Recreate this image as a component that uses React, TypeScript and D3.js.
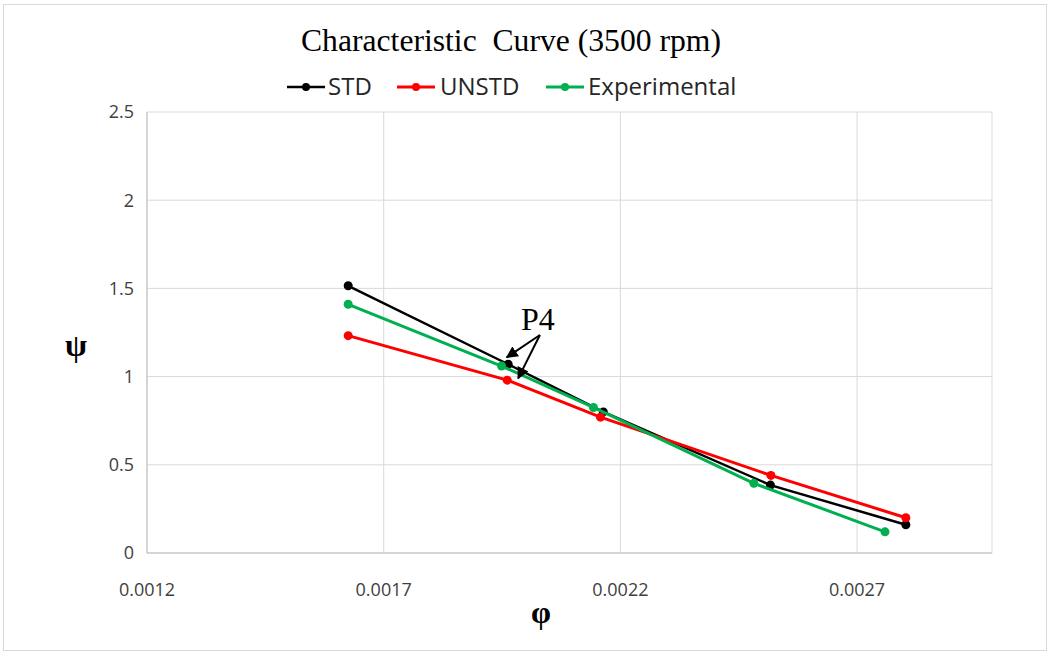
import React, { useEffect } from 'react';
import * as d3 from 'd3';

// 数据 (φ, ψ)
const phiTicks = [0.0012, 0.0017, 0.0022, 0.0027];
const psiTicks = [0, 0.5, 1, 1.5, 2, 2.5];

const stdPhi = [0.001625, 0.001963, 0.002164, 0.002517, 0.002803];
const stdPsi = [1.515, 1.07, 0.8, 0.385, 0.16];

const unstdPhi = [0.001625, 0.001961, 0.002158, 0.002518, 0.002803];
const unstdPsi = [1.232, 0.98, 0.77, 0.44, 0.2];

const expPhi = [0.001625, 0.001949, 0.002143, 0.002482, 0.002759];
const expPsi = [1.41, 1.06, 0.825, 0.395, 0.12];

const seriesNames = ['STD', 'UNSTD', 'Experimental'];
const seriesColors = ['#000000', '#ff0000', '#00b050'];

// P4 标注 (数据坐标)
const p4Origin = [0.00203, 1.236];
const p4Tips = [
  [0.00196, 1.109],
  [0.001984, 0.99],
];

const W = 1050;
const H = 655;
const margin = { top: 112, right: 58, bottom: 102, left: 147 };

const App = () => {
  useEffect(() => {
    document.body.style.margin = '0';
  }, []);

  const x = d3.scaleLinear().domain([0.0012, 0.002985]).range([margin.left, W - margin.right]);
  const y = d3.scaleLinear().domain([0, 2.5]).range([H - margin.bottom, margin.top]);

  const series = [
    { phi: stdPhi, psi: stdPsi, width: 2.5 },
    { phi: unstdPhi, psi: unstdPsi, width: 3 },
    { phi: expPhi, psi: expPsi, width: 3 },
  ].map((s, i) => ({
    ...s,
    name: seriesNames[i],
    color: seriesColors[i],
    pts: s.phi.map((p, j) => [p, s.psi[j]] as [number, number]),
  }));

  const line = d3
    .line<[number, number]>()
    .x((d) => x(d[0]))
    .y((d) => y(d[1]));

  const sans = "'Open Sans', 'Liberation Sans', sans-serif";
  const serif = "'Liberation Serif', 'Times New Roman', serif";

  // 图例位置
  const legendItems = [
    { x0: 287, tx: 328 },
    { x0: 397, tx: 440 },
    { x0: 546, tx: 588 },
  ];

  const ox = x(p4Origin[0]);
  const oy = y(p4Origin[1]);

  return (
    <svg width={W} height={H} style={{ display: 'block', background: '#fff' }}>
      <defs>
        <marker id="arrow" viewBox="0 0 10 10" refX="9" refY="5" markerWidth="6" markerHeight="6" orient="auto">
          <path d="M0,0 L10,5 L0,10 z" fill="#000" />
        </marker>
      </defs>
      <rect x={3.5} y={4.5} width={W - 7} height={H - 9} fill="#fff" stroke="#d9d9d9" />

      {/* 标题 */}
      <text x={301} y={51} fontFamily={serif} fontSize={31} fill="#000" textLength={420} lengthAdjust="spacingAndGlyphs">
        Characteristic&nbsp; Curve (3500 rpm)
      </text>

      {/* 图例 */}
      {series.map((s, i) => (
        <g key={s.name}>
          <line x1={legendItems[i].x0} x2={legendItems[i].x0 + 38} y1={87} y2={87} stroke={s.color} strokeWidth={s.width} />
          <circle cx={legendItems[i].x0 + 19} cy={87} r={4} fill={s.color} />
          <text x={legendItems[i].tx} y={87} dy="0.35em" fontFamily={sans} fontSize={24} fill="#262626">
            {s.name}
          </text>
        </g>
      ))}

      {/* 网格 */}
      {psiTicks.map((t) => (
        <line key={'gy' + t} x1={margin.left} x2={W - margin.right} y1={y(t)} y2={y(t)} stroke="#d9d9d9" />
      ))}
      {phiTicks.map((t) => (
        <line key={'gx' + t} x1={x(t)} x2={x(t)} y1={margin.top} y2={H - margin.bottom} stroke="#d9d9d9" />
      ))}
      <line x1={W - margin.right} x2={W - margin.right} y1={margin.top} y2={H - margin.bottom} stroke="#d9d9d9" />
      <line x1={margin.left} x2={margin.left} y1={margin.top} y2={H - margin.bottom} stroke="#bfbfbf" />
      <line x1={margin.left} x2={W - margin.right} y1={H - margin.bottom} y2={H - margin.bottom} stroke="#bfbfbf" />

      {/* 刻度 */}
      {psiTicks.map((t) => (
        <text key={'ty' + t} x={134} y={y(t)} dy="0.35em" textAnchor="end" fontFamily={sans} fontSize={18} fill="#404040">
          {t}
        </text>
      ))}
      {phiTicks.map((t) => (
        <text key={'tx' + t} x={x(t)} y={596} textAnchor="middle" fontFamily={sans} fontSize={18} fill="#404040">
          {d3.format('.4f')(t)}
        </text>
      ))}

      {/* 轴标题 */}
      <text x={76} y={356} textAnchor="middle" fontFamily={serif} fontSize={32} fontWeight="bold" fill="#000">
        ψ
      </text>
      <text x={541} y={623} textAnchor="middle" fontFamily={serif} fontSize={32} fontWeight="bold" fill="#000">
        φ
      </text>

      {/* 曲线 */}
      {series.map((s) => (
        <g key={'s' + s.name}>
          <path d={line(s.pts) || ''} fill="none" stroke={s.color} strokeWidth={s.width} />
          {s.pts.map((p, j) => (
            <circle key={j} cx={x(p[0])} cy={y(p[1])} r={4.5} fill={s.color} />
          ))}
        </g>
      ))}

      {/* P4 标注 */}
      <text x={ox - 2} y={oy - 5} textAnchor="middle" fontFamily={serif} fontSize={32} fill="#000">
        P4
      </text>
      {p4Tips.map((t, i) => (
        <line key={'a' + i} x1={ox} y1={oy} x2={x(t[0])} y2={y(t[1])} stroke="#000" strokeWidth={2} markerEnd="url(#arrow)" />
      ))}
    </svg>
  );
};

export default App;
